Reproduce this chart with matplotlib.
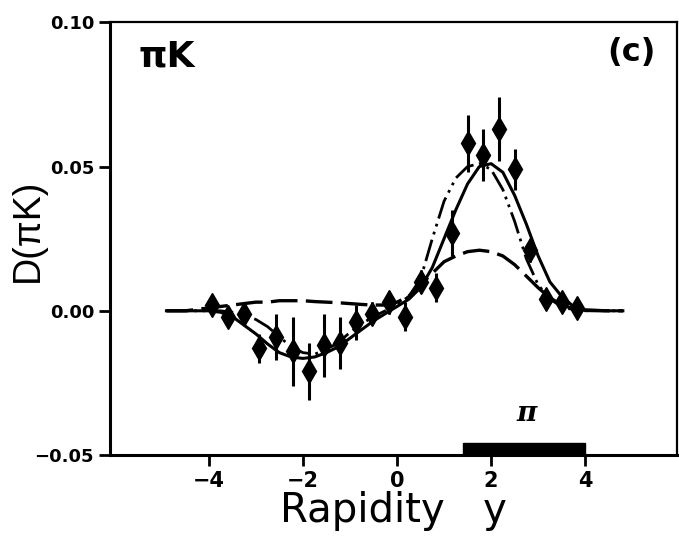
import numpy as np
import matplotlib
matplotlib.use("Agg")
import matplotlib.pyplot as plt
from matplotlib.patches import Rectangle

plt.rcParams['font.family'] = ['DejaVu Sans']

# measured points
y_data = [-3.93, -3.6, -3.25, -2.93, -2.57, -2.22, -1.88, -1.55, -1.22, -0.88, -0.53, -0.18,
          0.17, 0.5, 0.83, 1.16, 1.5, 1.83, 2.16, 2.5, 2.83, 3.16, 3.5, 3.83]
d_data = [0.002, -0.002, -0.001, -0.013, -0.009, -0.014, -0.021, -0.012, -0.011, -0.004, -0.001, 0.003,
          -0.002, 0.010, 0.008, 0.027, 0.058, 0.054, 0.063, 0.049, 0.021, 0.004, 0.003, 0.001]
d_err = [0.001, 0.002, 0.002, 0.005, 0.008, 0.012, 0.010, 0.011, 0.009, 0.006, 0.004, 0.004,
         0.005, 0.004, 0.005, 0.008, 0.010, 0.009, 0.011, 0.007, 0.004, 0.002, 0.002, 0.001]

# model curves
x_curve = [-4.9, -4.5, -4.0, -3.75, -3.5, -3.25, -3.0, -2.75, -2.5, -2.25, -2.0, -1.75, -1.5, -1.25,
           -1.0, -0.75, -0.5, -0.25, 0.0, 0.25, 0.5, 0.75, 1.0, 1.25, 1.5, 1.75, 2.0, 2.25, 2.5,
           2.75, 3.0, 3.25, 3.5, 3.75, 4.0, 4.5, 4.8]
solid = [0, 0, 0, -0.0005, -0.002, -0.005, -0.008, -0.0115, -0.0145, -0.016, -0.0165, -0.016, -0.0145,
         -0.0125, -0.0095, -0.0065, -0.0035, -0.001, 0.0015, 0.004, 0.008, 0.015, 0.025, 0.035, 0.044,
         0.050, 0.051, 0.048, 0.040, 0.030, 0.019, 0.010, 0.005, 0.0015, 0.0003, 0, 0]
dashdot = [0, 0, 0, 0, -0.0005, -0.0015, -0.003, -0.0055, -0.009, -0.0125, -0.0145, -0.015, -0.0135,
           -0.011, -0.0075, -0.0045, -0.002, 0.0, 0.002, 0.005, 0.011, 0.025, 0.038, 0.046, 0.050,
           0.051, 0.049, 0.042, 0.031, 0.018, 0.009, 0.004, 0.0015, 0.0003, 0, 0, 0]
dashed = [0, 0, 0.001, 0.0015, 0.002, 0.0025, 0.003, 0.003, 0.0035, 0.0035, 0.0035, 0.0032, 0.003,
          0.0028, 0.0025, 0.0022, 0.002, 0.002, 0.003, 0.005, 0.009, 0.013, 0.017, 0.019, 0.0205,
          0.021, 0.0205, 0.019, 0.016, 0.012, 0.008, 0.0045, 0.002, 0.0008, 0.0002, 0, 0]

pi_range = [1.4, 4.0]

fig = plt.figure(figsize=(6.79, 5.57), dpi=100)
ax = fig.add_axes([0.162, 0.183, 0.835, 0.777])

ax.plot(x_curve, solid, color='black', lw=2.2)
ax.plot(x_curve, dashdot, color='black', lw=2.0, dashes=[8, 2, 1, 2, 1, 2])
ax.plot(x_curve, dashed, color='black', lw=2.4, dashes=[8, 2.5])
ax.errorbar(y_data, d_data, yerr=d_err, fmt='d', color='black', ms=12, elinewidth=2.2, capsize=0)

# pion acceptance bar
ax.add_patch(Rectangle((pi_range[0], -0.05), pi_range[1] - pi_range[0], 0.0042,
                       color='black', clip_on=False))
ax.text(2.75, -0.0355, 'π', fontsize=20, fontweight='bold', fontstyle='italic',
        ha='center', va='center', family=['DejaVu Serif'])

ax.set_xlim(-6.1, 5.95)
ax.set_ylim(-0.05, 0.1)
ax.set_xticks([-4, -2, 0, 2, 4])
ax.set_xticklabels(['−4', '−2', '0', '2', '4'])
ax.set_yticks([-0.05, 0.0, 0.05, 0.10])
ax.set_yticklabels(['−0.05', '0.00', '0.05', '0.10'])
ax.tick_params(direction='out', length=8, width=2)
ax.tick_params(axis='x', labelsize=15)
ax.tick_params(axis='y', labelsize=13)
for lab in ax.get_xticklabels() + ax.get_yticklabels():
    lab.set_fontweight('bold')
for s in ['left', 'bottom']:
    ax.spines[s].set_linewidth(2.2)
for s in ['top', 'right']:
    ax.spines[s].set_linewidth(1.6)

ax.set_xlabel('Rapidity   y', fontsize=29, labelpad=0)
ax.set_ylabel('D(πK)', fontsize=27, labelpad=0, family=['Liberation Sans'])
ax.yaxis.set_label_coords(-0.113, 0.52)
ax.text(0.05, 0.92, 'πK', transform=ax.transAxes, fontsize=26, fontweight='bold', va='center')
ax.text(0.92, 0.93, '(c)', transform=ax.transAxes, fontsize=23, fontweight='bold',
        va='center', ha='center')

fig.savefig('out.png', dpi=100)
